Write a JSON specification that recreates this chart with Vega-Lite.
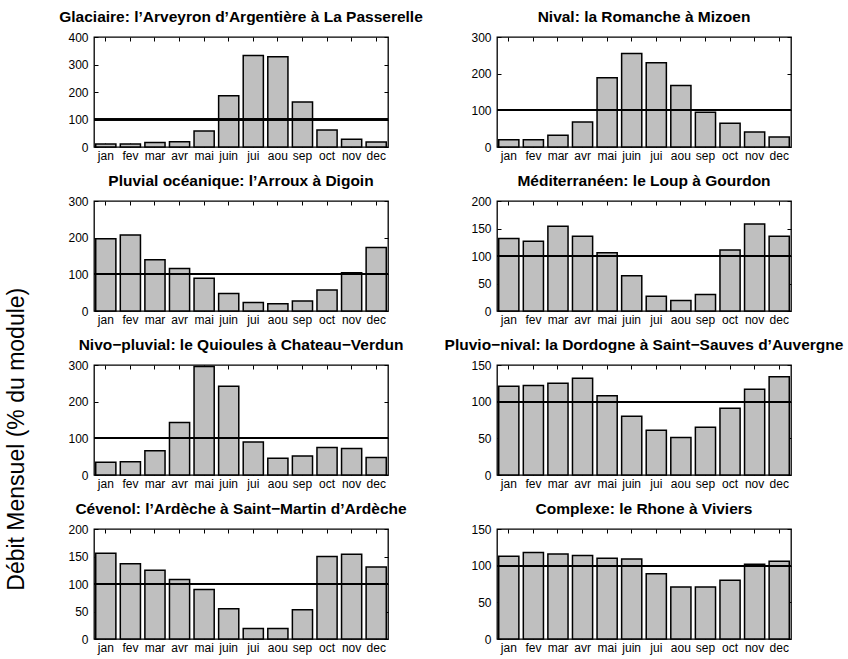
{
  "$schema": "https://vega.github.io/schema/vega-lite/v6.json",
  "padding": {"left": 5, "top": 8, "right": 5, "bottom": 5},
  "title": {
    "text": "Débit Mensuel (% du module)",
    "orient": "left",
    "anchor": "middle",
    "fontSize": 23,
    "fontWeight": "normal",
    "font": "Liberation Sans",
    "color": "black",
    "offset": 30,
    "dx": -108
  },
  "config": {
    "view": {"stroke": "black", "strokeWidth": 1.3},
    "font": "Liberation Sans",
    "axis": {
      "domain": false,
      "grid": false,
      "title": null,
      "tickColor": "black",
      "tickSize": -4,
      "tickWidth": 1,
      "labelColor": "black",
      "labelFont": "Liberation Sans",
      "labelFontSize": 12,
      "labelPadding": 7
    },
    "axisY": {"labelPadding": 10},
    "title": {"font": "Liberation Sans", "fontSize": 15.5, "fontWeight": "bold", "color": "black", "offset": 6},
    "bar": {"fill": "#bfbfbf", "stroke": "black", "strokeWidth": 1.5}
  },
  "datasets": {
    "regimes": [
      {"station": "glaciaire", "mois": "jan", "debit": 11}, {"station": "glaciaire", "mois": "fev", "debit": 11}, {"station": "glaciaire", "mois": "mar", "debit": 16}, {"station": "glaciaire", "mois": "avr", "debit": 19}, {"station": "glaciaire", "mois": "mai", "debit": 58}, {"station": "glaciaire", "mois": "juin", "debit": 186}, {"station": "glaciaire", "mois": "jui", "debit": 333}, {"station": "glaciaire", "mois": "aou", "debit": 328}, {"station": "glaciaire", "mois": "sep", "debit": 164}, {"station": "glaciaire", "mois": "oct", "debit": 62}, {"station": "glaciaire", "mois": "nov", "debit": 28}, {"station": "glaciaire", "mois": "dec", "debit": 18},
      {"station": "nival", "mois": "jan", "debit": 20}, {"station": "nival", "mois": "fev", "debit": 20}, {"station": "nival", "mois": "mar", "debit": 32}, {"station": "nival", "mois": "avr", "debit": 68}, {"station": "nival", "mois": "mai", "debit": 189}, {"station": "nival", "mois": "juin", "debit": 255}, {"station": "nival", "mois": "jui", "debit": 230}, {"station": "nival", "mois": "aou", "debit": 168}, {"station": "nival", "mois": "sep", "debit": 95}, {"station": "nival", "mois": "oct", "debit": 65}, {"station": "nival", "mois": "nov", "debit": 41}, {"station": "nival", "mois": "dec", "debit": 27},
      {"station": "pluvial", "mois": "jan", "debit": 197}, {"station": "pluvial", "mois": "fev", "debit": 207}, {"station": "pluvial", "mois": "mar", "debit": 140}, {"station": "pluvial", "mois": "avr", "debit": 116}, {"station": "pluvial", "mois": "mai", "debit": 89}, {"station": "pluvial", "mois": "juin", "debit": 48}, {"station": "pluvial", "mois": "jui", "debit": 23}, {"station": "pluvial", "mois": "aou", "debit": 20}, {"station": "pluvial", "mois": "sep", "debit": 27}, {"station": "pluvial", "mois": "oct", "debit": 57}, {"station": "pluvial", "mois": "nov", "debit": 104}, {"station": "pluvial", "mois": "dec", "debit": 173},
      {"station": "mediterraneen", "mois": "jan", "debit": 132}, {"station": "mediterraneen", "mois": "fev", "debit": 127}, {"station": "mediterraneen", "mois": "mar", "debit": 154}, {"station": "mediterraneen", "mois": "avr", "debit": 136}, {"station": "mediterraneen", "mois": "mai", "debit": 106}, {"station": "mediterraneen", "mois": "juin", "debit": 64}, {"station": "mediterraneen", "mois": "jui", "debit": 27}, {"station": "mediterraneen", "mois": "aou", "debit": 19}, {"station": "mediterraneen", "mois": "sep", "debit": 30}, {"station": "mediterraneen", "mois": "oct", "debit": 111}, {"station": "mediterraneen", "mois": "nov", "debit": 158}, {"station": "mediterraneen", "mois": "dec", "debit": 136},
      {"station": "nivopluvial", "mois": "jan", "debit": 35}, {"station": "nivopluvial", "mois": "fev", "debit": 36}, {"station": "nivopluvial", "mois": "mar", "debit": 66}, {"station": "nivopluvial", "mois": "avr", "debit": 143}, {"station": "nivopluvial", "mois": "mai", "debit": 296}, {"station": "nivopluvial", "mois": "juin", "debit": 242}, {"station": "nivopluvial", "mois": "jui", "debit": 90}, {"station": "nivopluvial", "mois": "aou", "debit": 46}, {"station": "nivopluvial", "mois": "sep", "debit": 52}, {"station": "nivopluvial", "mois": "oct", "debit": 75}, {"station": "nivopluvial", "mois": "nov", "debit": 72}, {"station": "nivopluvial", "mois": "dec", "debit": 48},
      {"station": "pluvionival", "mois": "jan", "debit": 121}, {"station": "pluvionival", "mois": "fev", "debit": 122}, {"station": "pluvionival", "mois": "mar", "debit": 125}, {"station": "pluvionival", "mois": "avr", "debit": 132}, {"station": "pluvionival", "mois": "mai", "debit": 108}, {"station": "pluvionival", "mois": "juin", "debit": 80}, {"station": "pluvionival", "mois": "jui", "debit": 61}, {"station": "pluvionival", "mois": "aou", "debit": 51}, {"station": "pluvionival", "mois": "sep", "debit": 65}, {"station": "pluvionival", "mois": "oct", "debit": 91}, {"station": "pluvionival", "mois": "nov", "debit": 117}, {"station": "pluvionival", "mois": "dec", "debit": 134},
      {"station": "cevenol", "mois": "jan", "debit": 156}, {"station": "cevenol", "mois": "fev", "debit": 137}, {"station": "cevenol", "mois": "mar", "debit": 125}, {"station": "cevenol", "mois": "avr", "debit": 108}, {"station": "cevenol", "mois": "mai", "debit": 90}, {"station": "cevenol", "mois": "juin", "debit": 55}, {"station": "cevenol", "mois": "jui", "debit": 19}, {"station": "cevenol", "mois": "aou", "debit": 19}, {"station": "cevenol", "mois": "sep", "debit": 53}, {"station": "cevenol", "mois": "oct", "debit": 150}, {"station": "cevenol", "mois": "nov", "debit": 154}, {"station": "cevenol", "mois": "dec", "debit": 131},
      {"station": "complexe", "mois": "jan", "debit": 113}, {"station": "complexe", "mois": "fev", "debit": 118}, {"station": "complexe", "mois": "mar", "debit": 116}, {"station": "complexe", "mois": "avr", "debit": 114}, {"station": "complexe", "mois": "mai", "debit": 110}, {"station": "complexe", "mois": "juin", "debit": 109}, {"station": "complexe", "mois": "jui", "debit": 89}, {"station": "complexe", "mois": "aou", "debit": 71}, {"station": "complexe", "mois": "sep", "debit": 71}, {"station": "complexe", "mois": "oct", "debit": 80}, {"station": "complexe", "mois": "nov", "debit": 102}, {"station": "complexe", "mois": "dec", "debit": 106}
    ]
  },
  "bounds": "flush",
  "columns": 2,
  "spacing": {"row": 54, "column": 109},
  "concat": [
    {
      "title": "Glaciaire: l’Arveyron d’Argentière à La Passerelle",
      "width": 294, "height": 110,
      "data": {"name": "regimes"},
      "transform": [{"filter": "datum.station === 'glaciaire'"}],
      "resolve": {"axis": {"x": "independent", "y": "independent"}},
      "layer": [
        {"mark": "bar", "encoding": {
          "x": {"field": "mois", "type": "ordinal", "scale": {"domain": ["jan","fev","mar","avr","mai","juin","jui","aou","sep","oct","nov","dec"], "paddingInner": 0.18, "paddingOuter": 0.07}, "axis": {"orient": "bottom", "labelAngle": 0}},
          "y": {"field": "debit", "type": "quantitative", "scale": {"domain": [0, 400], "nice": false}, "axis": {"orient": "left", "values": [0, 100, 200, 300, 400]}}}},
        {"mark": {"type": "rule", "color": "black", "strokeWidth": 1.5}, "encoding": {"y": {"datum": 100, "type": "quantitative", "axis": null}}},
        {"mark": {"type": "bar", "opacity": 0}, "encoding": {
          "x": {"field": "mois", "type": "ordinal", "axis": {"orient": "top", "labels": false}},
          "y": {"field": "debit", "type": "quantitative", "axis": {"orient": "right", "labels": false, "values": [0, 100, 200, 300, 400]}}}}
      ]
    },
    {
      "title": "Nival: la Romanche à Mizoen",
      "width": 294, "height": 110,
      "data": {"name": "regimes"},
      "transform": [{"filter": "datum.station === 'nival'"}],
      "resolve": {"axis": {"x": "independent", "y": "independent"}},
      "layer": [
        {"mark": "bar", "encoding": {
          "x": {"field": "mois", "type": "ordinal", "scale": {"domain": ["jan","fev","mar","avr","mai","juin","jui","aou","sep","oct","nov","dec"], "paddingInner": 0.18, "paddingOuter": 0.07}, "axis": {"orient": "bottom", "labelAngle": 0}},
          "y": {"field": "debit", "type": "quantitative", "scale": {"domain": [0, 300], "nice": false}, "axis": {"orient": "left", "values": [0, 100, 200, 300]}}}},
        {"mark": {"type": "rule", "color": "black", "strokeWidth": 1.5}, "encoding": {"y": {"datum": 100, "type": "quantitative", "axis": null}}},
        {"mark": {"type": "bar", "opacity": 0}, "encoding": {
          "x": {"field": "mois", "type": "ordinal", "axis": {"orient": "top", "labels": false}},
          "y": {"field": "debit", "type": "quantitative", "axis": {"orient": "right", "labels": false, "values": [0, 100, 200, 300]}}}}
      ]
    },
    {
      "title": "Pluvial océanique: l’Arroux à Digoin",
      "width": 294, "height": 110,
      "data": {"name": "regimes"},
      "transform": [{"filter": "datum.station === 'pluvial'"}],
      "resolve": {"axis": {"x": "independent", "y": "independent"}},
      "layer": [
        {"mark": "bar", "encoding": {
          "x": {"field": "mois", "type": "ordinal", "scale": {"domain": ["jan","fev","mar","avr","mai","juin","jui","aou","sep","oct","nov","dec"], "paddingInner": 0.18, "paddingOuter": 0.07}, "axis": {"orient": "bottom", "labelAngle": 0}},
          "y": {"field": "debit", "type": "quantitative", "scale": {"domain": [0, 300], "nice": false}, "axis": {"orient": "left", "values": [0, 100, 200, 300]}}}},
        {"mark": {"type": "rule", "color": "black", "strokeWidth": 1.5}, "encoding": {"y": {"datum": 100, "type": "quantitative", "axis": null}}},
        {"mark": {"type": "bar", "opacity": 0}, "encoding": {
          "x": {"field": "mois", "type": "ordinal", "axis": {"orient": "top", "labels": false}},
          "y": {"field": "debit", "type": "quantitative", "axis": {"orient": "right", "labels": false, "values": [0, 100, 200, 300]}}}}
      ]
    },
    {
      "title": "Méditerranéen: le Loup à Gourdon",
      "width": 294, "height": 110,
      "data": {"name": "regimes"},
      "transform": [{"filter": "datum.station === 'mediterraneen'"}],
      "resolve": {"axis": {"x": "independent", "y": "independent"}},
      "layer": [
        {"mark": "bar", "encoding": {
          "x": {"field": "mois", "type": "ordinal", "scale": {"domain": ["jan","fev","mar","avr","mai","juin","jui","aou","sep","oct","nov","dec"], "paddingInner": 0.18, "paddingOuter": 0.07}, "axis": {"orient": "bottom", "labelAngle": 0}},
          "y": {"field": "debit", "type": "quantitative", "scale": {"domain": [0, 200], "nice": false}, "axis": {"orient": "left", "values": [0, 50, 100, 150, 200]}}}},
        {"mark": {"type": "rule", "color": "black", "strokeWidth": 1.5}, "encoding": {"y": {"datum": 100, "type": "quantitative", "axis": null}}},
        {"mark": {"type": "bar", "opacity": 0}, "encoding": {
          "x": {"field": "mois", "type": "ordinal", "axis": {"orient": "top", "labels": false}},
          "y": {"field": "debit", "type": "quantitative", "axis": {"orient": "right", "labels": false, "values": [0, 50, 100, 150, 200]}}}}
      ]
    },
    {
      "title": "Nivo−pluvial: le Quioules à Chateau−Verdun",
      "width": 294, "height": 110,
      "data": {"name": "regimes"},
      "transform": [{"filter": "datum.station === 'nivopluvial'"}],
      "resolve": {"axis": {"x": "independent", "y": "independent"}},
      "layer": [
        {"mark": "bar", "encoding": {
          "x": {"field": "mois", "type": "ordinal", "scale": {"domain": ["jan","fev","mar","avr","mai","juin","jui","aou","sep","oct","nov","dec"], "paddingInner": 0.18, "paddingOuter": 0.07}, "axis": {"orient": "bottom", "labelAngle": 0}},
          "y": {"field": "debit", "type": "quantitative", "scale": {"domain": [0, 300], "nice": false}, "axis": {"orient": "left", "values": [0, 100, 200, 300]}}}},
        {"mark": {"type": "rule", "color": "black", "strokeWidth": 1.5}, "encoding": {"y": {"datum": 100, "type": "quantitative", "axis": null}}},
        {"mark": {"type": "bar", "opacity": 0}, "encoding": {
          "x": {"field": "mois", "type": "ordinal", "axis": {"orient": "top", "labels": false}},
          "y": {"field": "debit", "type": "quantitative", "axis": {"orient": "right", "labels": false, "values": [0, 100, 200, 300]}}}}
      ]
    },
    {
      "title": "Pluvio−nival: la Dordogne à Saint−Sauves d’Auvergne",
      "width": 294, "height": 110,
      "data": {"name": "regimes"},
      "transform": [{"filter": "datum.station === 'pluvionival'"}],
      "resolve": {"axis": {"x": "independent", "y": "independent"}},
      "layer": [
        {"mark": "bar", "encoding": {
          "x": {"field": "mois", "type": "ordinal", "scale": {"domain": ["jan","fev","mar","avr","mai","juin","jui","aou","sep","oct","nov","dec"], "paddingInner": 0.18, "paddingOuter": 0.07}, "axis": {"orient": "bottom", "labelAngle": 0}},
          "y": {"field": "debit", "type": "quantitative", "scale": {"domain": [0, 150], "nice": false}, "axis": {"orient": "left", "values": [0, 50, 100, 150]}}}},
        {"mark": {"type": "rule", "color": "black", "strokeWidth": 1.5}, "encoding": {"y": {"datum": 100, "type": "quantitative", "axis": null}}},
        {"mark": {"type": "bar", "opacity": 0}, "encoding": {
          "x": {"field": "mois", "type": "ordinal", "axis": {"orient": "top", "labels": false}},
          "y": {"field": "debit", "type": "quantitative", "axis": {"orient": "right", "labels": false, "values": [0, 50, 100, 150]}}}}
      ]
    },
    {
      "title": "Cévenol: l’Ardèche à Saint−Martin d’Ardèche",
      "width": 294, "height": 110,
      "data": {"name": "regimes"},
      "transform": [{"filter": "datum.station === 'cevenol'"}],
      "resolve": {"axis": {"x": "independent", "y": "independent"}},
      "layer": [
        {"mark": "bar", "encoding": {
          "x": {"field": "mois", "type": "ordinal", "scale": {"domain": ["jan","fev","mar","avr","mai","juin","jui","aou","sep","oct","nov","dec"], "paddingInner": 0.18, "paddingOuter": 0.07}, "axis": {"orient": "bottom", "labelAngle": 0}},
          "y": {"field": "debit", "type": "quantitative", "scale": {"domain": [0, 200], "nice": false}, "axis": {"orient": "left", "values": [0, 50, 100, 150, 200]}}}},
        {"mark": {"type": "rule", "color": "black", "strokeWidth": 1.5}, "encoding": {"y": {"datum": 100, "type": "quantitative", "axis": null}}},
        {"mark": {"type": "bar", "opacity": 0}, "encoding": {
          "x": {"field": "mois", "type": "ordinal", "axis": {"orient": "top", "labels": false}},
          "y": {"field": "debit", "type": "quantitative", "axis": {"orient": "right", "labels": false, "values": [0, 50, 100, 150, 200]}}}}
      ]
    },
    {
      "title": "Complexe: le Rhone à Viviers",
      "width": 294, "height": 110,
      "data": {"name": "regimes"},
      "transform": [{"filter": "datum.station === 'complexe'"}],
      "resolve": {"axis": {"x": "independent", "y": "independent"}},
      "layer": [
        {"mark": "bar", "encoding": {
          "x": {"field": "mois", "type": "ordinal", "scale": {"domain": ["jan","fev","mar","avr","mai","juin","jui","aou","sep","oct","nov","dec"], "paddingInner": 0.18, "paddingOuter": 0.07}, "axis": {"orient": "bottom", "labelAngle": 0}},
          "y": {"field": "debit", "type": "quantitative", "scale": {"domain": [0, 150], "nice": false}, "axis": {"orient": "left", "values": [0, 50, 100, 150]}}}},
        {"mark": {"type": "rule", "color": "black", "strokeWidth": 1.5}, "encoding": {"y": {"datum": 100, "type": "quantitative", "axis": null}}},
        {"mark": {"type": "bar", "opacity": 0}, "encoding": {
          "x": {"field": "mois", "type": "ordinal", "axis": {"orient": "top", "labels": false}},
          "y": {"field": "debit", "type": "quantitative", "axis": {"orient": "right", "labels": false, "values": [0, 50, 100, 150]}}}}
      ]
    }
  ]
}
